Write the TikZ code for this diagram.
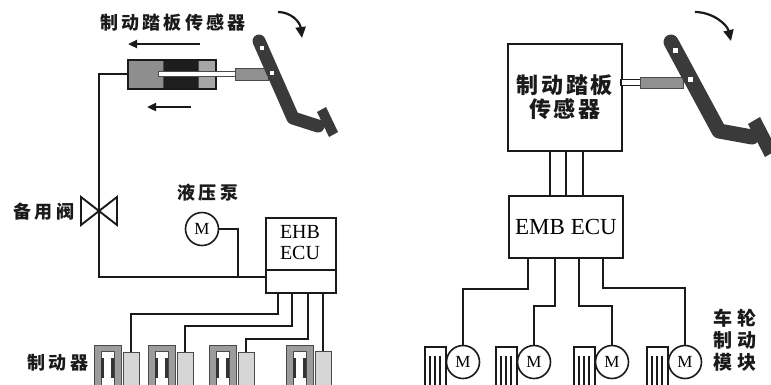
\documentclass[tikz,border=0pt]{standalone}
\usepackage{fontspec}
\setmainfont{Liberation Serif}
\newfontfamily\cjkfont{Noto Sans CJK SC}[UprightFont={* Black}, BoldFont={* Black}]
\usetikzlibrary{arrows.meta}

\definecolor{inkblack}{HTML}{1A1A1A}
\definecolor{pedaldark}{HTML}{3A3A3A}
\definecolor{cylmid}{HTML}{8E8E8E}
\definecolor{cyldark}{HTML}{1E1E1E}
\definecolor{cyllight}{HTML}{A6A6A6}
\definecolor{rodgray}{HTML}{909090}
\definecolor{edgegray}{HTML}{4A4A4A}
\definecolor{calgray}{HTML}{9C9C9C}
\definecolor{padgray}{HTML}{333333}
\definecolor{boxgray}{HTML}{D6D6D6}

\tikzset{
  wire/.style={line width=1.9pt, draw=inkblack},
  framebox/.style={draw=inkblack, line width=1.9pt, fill=white, inner sep=0pt},
  cjklabel/.style={font=\cjkfont\fontsize{18}{22}\selectfont\addfontfeature{LetterSpace=18},
                   text=inkblack, inner sep=0pt, align=center},
  motor/.style={circle, draw=inkblack, line width=1.6pt, fill=white, minimum size=33pt,
                inner sep=0pt, font=\fontsize{17}{17}\selectfont},
  pusharrow/.style={line width=2.4pt, draw=inkblack, -{Triangle[length=9pt,width=8pt]}},
  swingarrow/.style={line width=2.2pt, draw=inkblack, -{Triangle[length=11pt,width=10pt]}},
  pedalarm/.style={draw=pedaldark, line cap=round, line join=round},
  brakebox/.style={draw=edgegray, line width=0.9pt, fill=boxgray, minimum width=16pt,
                   minimum height=36pt, inner sep=0pt, anchor=north},
  % hydraulic caliper body with its two pads (origin = top left corner)
  caliper/.pic={
    \fill[calgray, draw=edgegray, line width=0.9pt] (0,0) rectangle (27,46);
    \fill[white, draw=edgegray, line width=0.9pt] (7,6) rectangle (20,46);
    \fill[padgray] (7,13) rectangle (10,33);
    \fill[padgray] (17,13) rectangle (20,33);
  },
  % brake disc comb beside each EMB motor (origin = top left corner)
  padcomb/.pic={
    \draw[inkblack, line width=1.3pt] (0,45) -- (0,0) -- (21,0) -- (21,45);
    \draw[inkblack, line width=1.3pt] (5,9) -- (5,45) (10,9) -- (10,45) (15,9) -- (15,45);
  },
}

\begin{document}
\begin{tikzpicture}[x=1pt, y=-1pt]
\useasboundingbox (0,0) rectangle (771,384);
\fill[white] (0,0) rectangle (771,384);

% ================= EHB system =================
\node[cjklabel] (ehbtitle) at (173,23) {制动踏板传感器};
\draw[pusharrow] (200,44) -- (128,44);
\draw[pusharrow] (191,107) -- (147,107);

% master cylinder
\fill[cylmid] (127,59) rectangle (163,88);
\fill[cyldark] (163,59) rectangle (198,88);
\fill[cyllight] (198,59) rectangle (215,88);
\draw[edgegray, line width=0.8pt] (163,59) -- (163,88) (198,59) -- (198,88);
\node[draw=inkblack, line width=1.5pt, minimum width=88pt, minimum height=29pt,
      inner sep=0pt, anchor=north west] (cyl) at (127,59) {};
\draw[fill=white, draw=edgegray, line width=0.8pt] (158,71.5) rectangle (236,76.5);
\draw[fill=rodgray, draw=edgegray, line width=0.9pt] (235,68) rectangle (268,80);

% pedal
\draw[pedalarm, line width=13pt] (259,41) -- (293,118) -- (318,126);
\fill[pedaldark] (317,112) -- (326,107) -- (338,132) -- (329,137) -- cycle;
\fill[white] (260,46) rectangle (264,50);
\fill[white] (270,71) rectangle (274,75);
\draw[swingarrow] (278,12) .. controls (291,12) and (300,22) .. (302,38);

% backup valve and pipe
\coordinate (valve) at (99,211);
\coordinate (pipein) at (265,277);
\draw[wire] (cyl.west) -| (valve) -- (valve |- pipein) -- (pipein);
\draw[wire, fill=white, line join=miter] (81,197) -- (81,225) -- (valve) -- cycle;
\draw[wire, fill=white, line join=miter] (117,197) -- (117,225) -- (valve) -- cycle;
\node[cjklabel] (valvelabel) at (44,212) {备用阀};

% pump
\node[cjklabel] (pumplabel) at (208,193) {液压泵};
\node[motor] (pump) at (202,229) {M};
\coordinate (pumpjoin) at (238,277);
\draw[wire] (pump.east) -| (pumpjoin);

% EHB ECU
\node[framebox, minimum width=70pt, minimum height=75pt, anchor=north west] (ehb) at (265,217) {};
\draw[wire] (265,270) -- (335,270);
\node[font=\fontsize{20}{21}\selectfont, align=center, inner sep=0pt] (ehbtext) at (300,243) {EHB\\ECU};

% wheel brakes
\pic at (94,345) {caliper};
\pic at (148,345) {caliper};
\pic at (209,345) {caliper};
\pic at (286,345) {caliper};
\node[brakebox] (b1) at (131,352) {};
\node[brakebox] (b2) at (185,352) {};
\node[brakebox] (b3) at (246,352) {};
\node[brakebox] (b4) at (323,351) {};
\draw[wire] ([xshift=13pt]ehb.south west) -- ++(0,20) -| (b1.north);
\draw[wire] ([xshift=27pt]ehb.south west) -- ++(0,32) -| (b2.north);
\draw[wire] ([xshift=43pt]ehb.south west) -- ++(0,45) -| (b3.north);
\draw[wire] ([xshift=58pt]ehb.south west) -- (b4.north);
\node[cjklabel] (brakelabel) at (58,363) {制动器};

% ================= EMB system =================
\node[framebox, minimum width=114pt, minimum height=107pt, anchor=north west,
      font=\cjkfont\fontsize{22}{24}\selectfont\addfontfeature{LetterSpace=12},
      text=inkblack, align=center] (pedalsensor) at (507,43) {制动踏板\\传感器};
\draw[fill=white, draw=inkblack, line width=1.3pt] (621,79.5) rectangle (641,85.5);
\draw[fill=rodgray, draw=edgegray, line width=0.9pt] (640,77) rectangle (683,88);

% pedal
\draw[pedalarm, line width=15pt] (671,42) -- (719,131) -- (752,137);
\fill[pedaldark] (748,124) -- (760,117) -- (777,150) -- (765,157) -- cycle;
\fill[white] (672.5,47.5) rectangle (677.5,52.5);
\fill[white] (687.5,76.5) rectangle (692.5,81.5);
\draw[swingarrow] (695,12) .. controls (712,12) and (727,24) .. (731,41);

% EMB ECU
\node[framebox, minimum width=114pt, minimum height=62pt, anchor=north west,
      font=\fontsize{23}{23}\selectfont] (emb) at (508,195) {EMB ECU};
\draw[wire] ([xshift=-15pt]pedalsensor.south) -- ([xshift=-15pt]pedalsensor.south |- emb.north);
\draw[wire] ([xshift=1pt]pedalsensor.south) -- ([xshift=1pt]pedalsensor.south |- emb.north);
\draw[wire] ([xshift=18pt]pedalsensor.south) -- ([xshift=18pt]pedalsensor.south |- emb.north);

% wheel brake modules
\pic at (425,347) {padcomb};
\pic at (496,347) {padcomb};
\pic at (574,347) {padcomb};
\pic at (647,347) {padcomb};
\node[motor] (m1) at (463,362) {M};
\node[motor] (m2) at (534,362) {M};
\node[motor] (m3) at (612,362) {M};
\node[motor] (m4) at (685,362) {M};
\draw[wire] ([xshift=-38pt]emb.south) -- ++(0,30) -| (m1.north);
\draw[wire] ([xshift=-11pt]emb.south) -- ++(0,47) -| (m2.north);
\draw[wire] ([xshift=13pt]emb.south) -- ++(0,47) -| (m3.north);
\draw[wire] ([xshift=37pt]emb.south) -- ++(0,29) -| (m4.north);
\node[cjklabel, font=\cjkfont\fontsize{19}{22}\selectfont\addfontfeature{LetterSpace=25}]
      (modulelabel) at (735,340) {车轮\\制动\\模块};
\end{tikzpicture}
\end{document}
